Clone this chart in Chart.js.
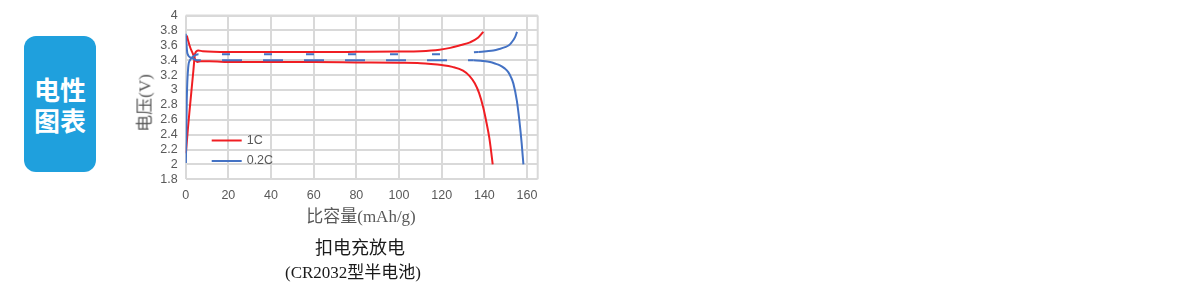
<!DOCTYPE html>
<html>
<head>
<meta charset="utf-8">
<script src="https://cdn.jsdelivr.net/npm/chart.js@4.4.1/dist/chart.umd.min.js"></script>
<style>
  html, body { margin: 0; padding: 0; background: #ffffff; }
  body { width: 1200px; height: 283px; position: relative; overflow: hidden; }
  #badge { position: absolute; left: 24px; top: 36px; width: 72px; height: 136px; border-radius: 12px;
    background: #1fa0dd; color: #fff; display: flex; align-items: center; justify-content: center;
    font-family: "Noto Sans CJK SC", sans-serif; font-weight: 700; font-size: 26px; line-height: 31px; text-align: center; }
  #wrap { position: absolute; left: 0; top: 0; width: 560px; height: 283px; }
  .lbl { position: absolute; white-space: nowrap; transform: translate(-50%, -50%); }
  #ytitle { left: 143px; top: 103px; transform: translate(-50%, -50%) rotate(-90deg);
    font-family: "Liberation Serif", "Noto Sans CJK SC", serif; font-size: 17px; color: #595959; }
  #xtitle { left: 361px; top: 214px; font-family: "Liberation Serif", "Noto Sans CJK SC", serif; font-size: 17px; color: #595959; }
  #cap1 { left: 360px; top: 246px; font-family: "Noto Sans CJK SC", sans-serif; font-size: 18px; font-weight: 400; color: #1a1a1a; }
  #cap2 { left: 353px; top: 270px; font-family: "Liberation Serif", "Noto Sans CJK SC", serif; font-size: 17px; color: #1a1a1a; }
</style>
</head>
<body>
<div id="badge">电性<br>图表</div>
<div id="wrap"><canvas id="c" width="560" height="283"></canvas></div>
<div class="lbl" id="ytitle">电压(V)</div>
<div class="lbl" id="xtitle">比容量(mAh/g)</div>
<div class="lbl" id="cap1">扣电充放电</div>
<div class="lbl" id="cap2">(CR2032型半电池)</div>
<script>
// ---- data ----
const seriesNames = ["1C", "0.2C"];
const xTicks = [0, 20, 40, 60, 80, 100, 120, 140, 160];

// 1C charge (capacity mAh/g, voltage V)
const c1C_x = [0.1, 1.0, 2.0, 3.0, 3.6, 4.4, 5.9, 8, 20, 40, 60, 80, 100, 110, 119, 124, 128.6, 133.3, 137, 139.5];
const c1C_v = [2.15, 2.47, 2.78, 3.08, 3.26, 3.49, 3.53, 3.52, 3.51, 3.51, 3.51, 3.512, 3.515, 3.52, 3.54, 3.565, 3.60, 3.64, 3.70, 3.78];
// 1C discharge
const d1C_x = [0.5, 2, 3.3, 4.4, 5.4, 7, 11, 22, 40, 60, 80, 100, 110, 115, 120, 125, 130, 133, 135.5, 137.5, 139.5, 141, 142.3, 143.2, 143.9];
const d1C_v = [3.73, 3.58, 3.49, 3.41, 3.375, 3.385, 3.385, 3.375, 3.375, 3.375, 3.37, 3.365, 3.36, 3.35, 3.335, 3.31, 3.26, 3.19, 3.09, 2.96, 2.76, 2.56, 2.36, 2.17, 2.0];
// 0.2C charge
const c02_x = [0.1, 0.5, 1.2, 2.0, 3.5, 6, 20, 40, 60, 80, 100, 120, 137.2, 141, 144.2, 147, 149.7, 151.5, 152.8, 154.4, 155.3];
const c02_v = [2.02, 2.86, 3.31, 3.40, 3.45, 3.48, 3.48, 3.48, 3.48, 3.48, 3.48, 3.48, 3.51, 3.52, 3.53, 3.55, 3.575, 3.60, 3.64, 3.71, 3.78];
// 0.2C discharge
const d02_x = [0, 0.8, 2.8, 5.1, 7, 20, 40, 60, 80, 100, 120, 134.8, 139, 142.7, 145, 147.3, 149.5, 151.2, 152.5, 153.6, 155.2, 156.4, 157.5, 158.3];
const d02_v = [3.755, 3.49, 3.43, 3.40, 3.40, 3.40, 3.40, 3.40, 3.40, 3.40, 3.40, 3.40, 3.39, 3.375, 3.355, 3.33, 3.29, 3.24, 3.17, 3.085, 2.86, 2.59, 2.28, 2.0];

const RED = '#f01e23';
const BLUE = '#4472c4';
const TICK_FONT = { family: '"Liberation Sans Narrow", "Liberation Sans", sans-serif', size: 12.5 };
const pts = (xs, vs) => xs.map((x, i) => ({ x: x, y: vs[i] }));

function dashSeg(x0, x1, dash, offset) {
  return {
    borderDash: ctx => (ctx.p0.parsed.x >= x0 && ctx.p1.parsed.x <= x1) ? dash : undefined,
    borderDashOffset: ctx => (ctx.p0.parsed.x >= x0 && ctx.p1.parsed.x <= x1) ? offset : undefined
  };
}

const frame = {
  id: 'frame',
  beforeDatasetsDraw(chart) {
    const a = chart.chartArea, ctx = chart.ctx;
    ctx.save();
    ctx.strokeStyle = '#d9d9d9';
    ctx.lineWidth = 2;
    ctx.beginPath();
    ctx.moveTo(a.right, a.top); ctx.lineTo(a.right, a.bottom);
    ctx.moveTo(a.left, a.top); ctx.lineTo(a.right, a.top);
    ctx.stroke();
    ctx.restore();
  },
  afterDatasetsDraw(chart) {
    const a = chart.chartArea, ctx = chart.ctx;
    const items = [{ label: seriesNames[0], color: RED }, { label: seriesNames[1], color: BLUE }];
    ctx.save();
    ctx.font = '12.5px "Liberation Sans Narrow", "Liberation Sans", sans-serif';
    ctx.textBaseline = 'middle';
    items.forEach((it, i) => {
      const y = a.top + 125 + i * 20.5;
      ctx.strokeStyle = it.color; ctx.lineWidth = 2;
      ctx.beginPath(); ctx.moveTo(a.left + 26, y); ctx.lineTo(a.left + 56, y); ctx.stroke();
      ctx.fillStyle = '#595959';
      ctx.fillText(it.label, a.left + 61, y);
    });
    ctx.restore();
  }
};

new Chart(document.getElementById('c'), {
  type: 'scatter',
  data: {
    datasets: [
      { label: seriesNames[1] + ' charge', data: pts(c02_x, c02_v), borderColor: BLUE, order: 0,
        segment: dashSeg(6, 137.2, [8, 34], 18.5) },
      { label: seriesNames[1] + ' discharge', data: pts(d02_x, d02_v), borderColor: BLUE, order: 0,
        segment: dashSeg(7, 134.8, [20, 21], 19.6) },
      { label: seriesNames[0] + ' charge', data: pts(c1C_x, c1C_v), borderColor: RED, order: 1 },
      { label: seriesNames[0] + ' discharge', data: pts(d1C_x, d1C_v), borderColor: RED, order: 1 }
    ].map(d => Object.assign({ showLine: true, pointRadius: 0, borderWidth: 2, fill: false, backgroundColor: d.borderColor, cubicInterpolationMode: 'monotone' }, d))
  },
  options: {
    responsive: false,
    animation: false,
    devicePixelRatio: 1,
    layout: { padding: { left: 0, right: 22.3, top: 14, bottom: 0 } },
    plugins: { legend: { display: false }, tooltip: { enabled: false } },
    scales: {
      x: {
        type: 'linear', min: 0, max: 165,
        afterBuildTicks: s => { s.ticks = xTicks.map(v => ({ value: v })); },
        afterFit: s => { s.height = 103.7; },
        grid: { color: '#d9d9d9', lineWidth: 2, drawTicks: false },
        border: { display: false },
        ticks: { padding: 9, color: '#595959', font: TICK_FONT, maxRotation: 0, autoSkip: false }
      },
      y: {
        type: 'linear', min: 1.8, max: 4,
        afterFit: s => { s.width = 185.7; },
        grid: { color: '#d9d9d9', lineWidth: 2, drawTicks: false },
        border: { display: false },
        ticks: { stepSize: 0.2, padding: 8, color: '#595959', font: TICK_FONT, autoSkip: false,
          callback: v => String(Math.round(v * 10) / 10) }
      }
    }
  },
  plugins: [frame]
});
</script>
</body>
</html>
